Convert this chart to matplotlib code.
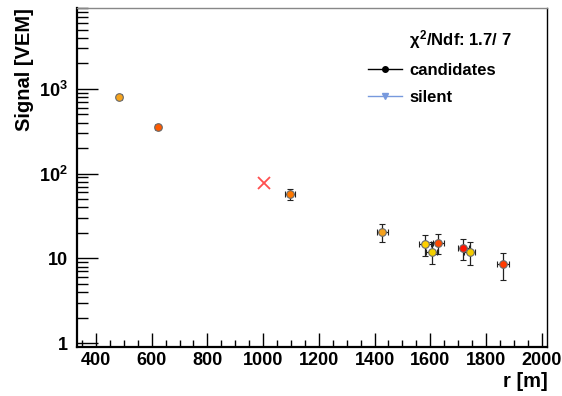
import matplotlib
matplotlib.use("Agg")
import matplotlib.pyplot as plt
from matplotlib.lines import Line2D
from matplotlib.ticker import FixedLocator, FixedFormatter, MultipleLocator
import numpy as np

plt.rcParams['font.family'] = ['Liberation Sans', 'DejaVu Sans']
plt.rcParams['font.weight'] = 'bold'
plt.rcParams['mathtext.fontset'] = 'custom'
plt.rcParams['mathtext.rm'] = 'Liberation Sans:bold'
plt.rcParams['mathtext.it'] = 'Liberation Sans:bold'
plt.rcParams['mathtext.bf'] = 'Liberation Sans:bold'

# station data: distance to axis [m], signal [VEM], errors, colour by timing
r = [484, 621, 1097, 1427, 1581, 1605, 1629, 1718, 1742, 1860]
signal = [809, 358, 57, 20.4, 14.8, 12.0, 15.2, 13.2, 11.9, 8.6]
signal_err = [28, 19, 8.5, 4.7, 4.2, 3.5, 3.9, 3.7, 3.5, 3.1]
r_err = [10, 10, 18, 20, 20, 20, 20, 20, 20, 21]
colors = ['#f6a31c', '#ff5a00', '#ff7800', '#f4a11e', '#ffd000',
          '#f2cf00', '#ff4a00', '#ff1500', '#f5cc00', '#ff3a00']

# rejected station
rej_r = [1003]
rej_signal = [77]

chi2_label = r'$\chi^{2}$/Ndf: 1.7/ 7'

fig = plt.figure(figsize=(5.62, 3.96), dpi=100)
ax = fig.add_axes([77.3 / 562, 1 - 346.5 / 396, 470 / 562, 338.5 / 396])

for xi, yi, xe, ye, c in zip(r, signal, r_err, signal_err, colors):
    ax.errorbar(xi, yi, xerr=xe, yerr=ye, fmt='o', color=c, ms=5.5,
                mec='#6a6a6a', mew=0.8, ecolor='#222222', elinewidth=0.9,
                capsize=2.2, capthick=0.9, zorder=3)

ax.plot(rej_r, rej_signal, 'x', color='#ff3030', ms=9, mew=1.3, alpha=0.85, zorder=3)

ax.set_yscale('log')
ax.set_xlim(333, 2020)
ax.set_ylim(0.91, 9000)

ax.xaxis.set_major_locator(MultipleLocator(200))
ax.xaxis.set_minor_locator(MultipleLocator(50))
ax.yaxis.set_major_locator(FixedLocator([1, 10, 100, 1000]))
ax.yaxis.set_major_formatter(FixedFormatter(['1', '10', r'$10^{2}$', r'$10^{3}$']))
minors = [m * 10.0 ** d for d in range(0, 4) for m in range(2, 10)]
ax.yaxis.set_minor_locator(FixedLocator(minors))
ax.yaxis.set_minor_formatter(FixedFormatter([''] * len(minors)))

ax.tick_params(axis='both', which='both', direction='in', top=False, right=False,
               labelsize=13, colors='black')
ax.tick_params(axis='x', which='major', length=10, width=1.0, pad=4)
ax.tick_params(axis='x', which='minor', length=5, width=1.0)
ax.tick_params(axis='y', which='major', length=15, width=1.0, pad=7)
ax.tick_params(axis='y', which='minor', length=8, width=1.0)

for lab in ax.get_xticklabels() + ax.get_yticklabels():
    lab.set_fontweight('bold')

ax.spines['left'].set_linewidth(1.6)
ax.spines['bottom'].set_linewidth(1.6)
ax.spines['right'].set_linewidth(1.0)
ax.spines['top'].set_linewidth(1.0)
ax.spines['top'].set_color('#888888')

ax.set_ylabel('Signal [VEM]', fontsize=14.5, fontweight='bold', loc='top')
ax.yaxis.set_label_coords(-0.092, 1.0)
ax.set_xlabel('r [m]', fontsize=14.5, fontweight='bold', loc='right')
ax.xaxis.set_label_coords(1.002, -0.075)

handles = [
    Line2D([], [], linestyle='none', marker=None),
    Line2D([], [], color='black', lw=1.0, marker='o', ms=4),
    Line2D([], [], color='#7799dd', lw=1.0, marker='v', ms=5),
]
labels = [chi2_label, 'candidates', 'silent']
leg = ax.legend(handles, labels, loc='upper left', bbox_to_anchor=(0.6, 0.965),
                frameon=False, fontsize=12, handlelength=2.05, handletextpad=0.45,
                labelspacing=0.72, borderpad=0)
for t in leg.get_texts():
    t.set_fontweight('bold')

fig.savefig('out.png', dpi=100)
